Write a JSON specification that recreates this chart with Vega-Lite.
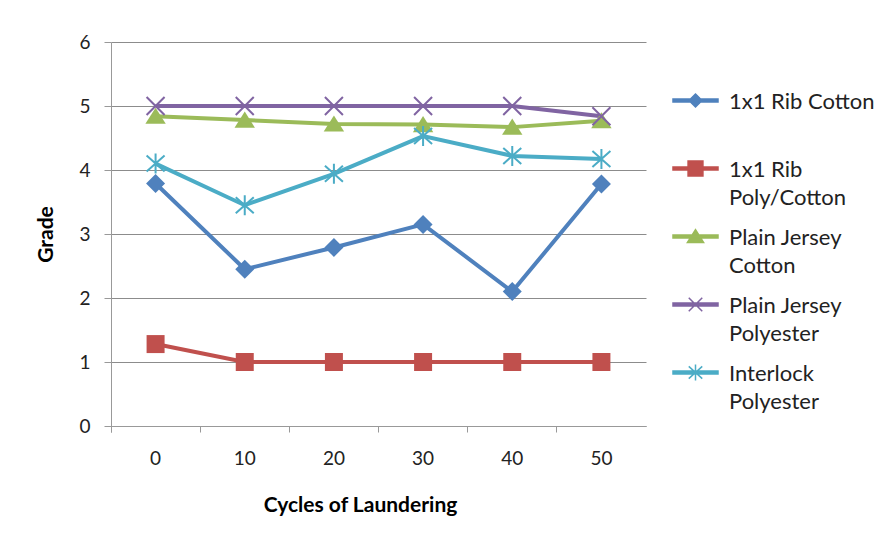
{
  "$schema": "https://vega.github.io/schema/vega-lite/v6.json",
  "autosize": "none",
  "width": 535,
  "height": 384,
  "padding": {"left": 111, "top": 42, "right": 231, "bottom": 107},
  "background": "white",
  "config": {
    "view": {"stroke": null},
    "font": "Lato",
    "axis": {"labelFont": "Lato", "titleFont": "Lato", "labelColor": "#222", "titleColor": "#000", "domainColor": "#999", "tickColor": "#999", "gridColor": "#8c8c8c", "labelFontSize": 19, "titleFontSize": 21, "titleFontWeight": "bold"},
    "legend": {"labelFont": "Lato", "labelFontSize": 22, "labelColor": "#222"}
  },
  "data": {"values": [
    {"cycle": 0, "series": "1x1 Rib Cotton", "grade": 3.79},
    {"cycle": 10, "series": "1x1 Rib Cotton", "grade": 2.45},
    {"cycle": 20, "series": "1x1 Rib Cotton", "grade": 2.79},
    {"cycle": 30, "series": "1x1 Rib Cotton", "grade": 3.15},
    {"cycle": 40, "series": "1x1 Rib Cotton", "grade": 2.1},
    {"cycle": 50, "series": "1x1 Rib Cotton", "grade": 3.78},
    {"cycle": 0, "series": "1x1 Rib Poly/Cotton", "grade": 1.28},
    {"cycle": 10, "series": "1x1 Rib Poly/Cotton", "grade": 1},
    {"cycle": 20, "series": "1x1 Rib Poly/Cotton", "grade": 1},
    {"cycle": 30, "series": "1x1 Rib Poly/Cotton", "grade": 1},
    {"cycle": 40, "series": "1x1 Rib Poly/Cotton", "grade": 1},
    {"cycle": 50, "series": "1x1 Rib Poly/Cotton", "grade": 1},
    {"cycle": 0, "series": "Plain Jersey Cotton", "grade": 4.84},
    {"cycle": 10, "series": "Plain Jersey Cotton", "grade": 4.78},
    {"cycle": 20, "series": "Plain Jersey Cotton", "grade": 4.72},
    {"cycle": 30, "series": "Plain Jersey Cotton", "grade": 4.71},
    {"cycle": 40, "series": "Plain Jersey Cotton", "grade": 4.67},
    {"cycle": 50, "series": "Plain Jersey Cotton", "grade": 4.77},
    {"cycle": 0, "series": "Plain Jersey Polyester", "grade": 5},
    {"cycle": 10, "series": "Plain Jersey Polyester", "grade": 5},
    {"cycle": 20, "series": "Plain Jersey Polyester", "grade": 5},
    {"cycle": 30, "series": "Plain Jersey Polyester", "grade": 5},
    {"cycle": 40, "series": "Plain Jersey Polyester", "grade": 5},
    {"cycle": 50, "series": "Plain Jersey Polyester", "grade": 4.84},
    {"cycle": 0, "series": "Interlock Polyester", "grade": 4.1},
    {"cycle": 10, "series": "Interlock Polyester", "grade": 3.45},
    {"cycle": 20, "series": "Interlock Polyester", "grade": 3.94},
    {"cycle": 30, "series": "Interlock Polyester", "grade": 4.53},
    {"cycle": 40, "series": "Interlock Polyester", "grade": 4.22},
    {"cycle": 50, "series": "Interlock Polyester", "grade": 4.17}
  ]},
  "encoding": {
    "x": {"field": "cycle", "type": "ordinal", "scale": {"type": "band", "paddingInner": 0, "paddingOuter": 0},
      "axis": {"title": "Cycles of Laundering", "labelAngle": 0, "bandPosition": 0, "tickExtra": true, "tickSize": 6, "labelPadding": 17, "titlePadding": 26, "titleX": 249, "titleAlign": "center", "grid": false}},
    "y": {"field": "grade", "type": "quantitative", "scale": {"domain": [0, 6], "nice": false},
      "axis": {"title": "Grade", "values": [0, 1, 2, 3, 4, 5, 6], "tickSize": 7, "labelPadding": 14, "titlePadding": 22, "grid": true}},
    "color": {"field": "series", "type": "nominal",
      "scale": {"domain": ["1x1 Rib Cotton", "1x1 Rib Poly/Cotton", "Plain Jersey Cotton", "Plain Jersey Polyester", "Interlock Polyester"],
                "range": ["#4F81BD", "#C0504D", "#9BBB59", "#8064A2", "#4BACC6"]}}
  },
  "layer": [
    {
      "mark": {"type": "line", "strokeWidth": 4},
      "encoding": {
        "color": {"field": "series", "type": "nominal",
          "legend": {
            "orient": "none", "legendX": 561, "legendY": 35, "title": null,
            "symbolSize": 2025, "labelOffset": 10, "rowPadding": 4, "labelBaseline": "top",
            "labelExpr": "datum.label == '1x1 Rib Cotton' ? ['1x1 Rib Cotton', ''] : datum.label == '1x1 Rib Poly/Cotton' ? ['1x1 Rib', 'Poly/Cotton'] : datum.label == 'Plain Jersey Cotton' ? ['Plain Jersey', 'Cotton'] : datum.label == 'Plain Jersey Polyester' ? ['Plain Jersey', 'Polyester'] : ['Interlock', 'Polyester']",
            "encode": {
              "labels": {"update": {"lineHeight": {"value": 28}, "dy": {"value": -9}}},
              "symbols": {"update": {
                "shape": {"signal": "datum.value == '1x1 Rib Cotton' ? 'M-1,-0.07H1V0.07H-1ZM0,-0.29L0.29,0L0,0.29L-0.29,0Z' : datum.value == '1x1 Rib Poly/Cotton' ? 'M-1,-0.07H1V0.07H-1ZM-0.33,-0.33H0.33V0.33H-0.33Z' : datum.value == 'Plain Jersey Cotton' ? 'M-1,-0.07H1V0.07H-1ZM0,-0.3L0.36,0.27L-0.36,0.27Z' : datum.value == 'Plain Jersey Polyester' ? 'M-1,-0.07H1V0.07H-1ZM-0.3,-0.3L0.3,0.3M-0.3,0.3L0.3,-0.3' : 'M-1,-0.07H1V0.07H-1ZM-0.3,-0.27L0.3,0.27M-0.3,0.27L0.3,-0.27M0,-0.36V0.36'"},
                "fill": {"scale": "color", "field": "value"},
                "stroke": {"scale": "color", "field": "value"},
                "strokeWidth": {"value": 1.5},
                "fillOpacity": {"value": 1},
                "strokeOpacity": {"value": 1},
                "opacity": {"value": 1},
                "size": {"value": 2025}
              }}
            }
          }
        }
      }
    },
    {
      "transform": [{"filter": "datum.series == '1x1 Rib Cotton'"}],
      "mark": {"type": "point", "filled": true, "opacity": 1, "size": 400, "shape": "M0,-0.95L0.95,0L0,0.95L-0.95,0Z"},
      "encoding": {"color": {"field": "series", "type": "nominal", "legend": null}}
    },
    {
      "transform": [{"filter": "datum.series == '1x1 Rib Poly/Cotton'"}],
      "mark": {"type": "point", "filled": true, "opacity": 1, "size": 400, "shape": "M-0.9,-0.9H0.9V0.9H-0.9Z"},
      "encoding": {"color": {"field": "series", "type": "nominal", "legend": null}}
    },
    {
      "transform": [{"filter": "datum.series == 'Plain Jersey Cotton'"}],
      "mark": {"type": "point", "filled": true, "opacity": 1, "size": 400, "shape": "M0,-0.85L1.02,0.76L-1.02,0.76Z"},
      "encoding": {"color": {"field": "series", "type": "nominal", "legend": null}}
    },
    {
      "transform": [{"filter": "datum.series == 'Plain Jersey Polyester'"}],
      "mark": {"type": "point", "filled": false, "opacity": 1, "size": 400, "strokeWidth": 2, "shape": "M-0.9,-0.9L0.9,0.9M-0.9,0.9L0.9,-0.9"},
      "encoding": {"color": {"field": "series", "type": "nominal", "legend": null}}
    },
    {
      "transform": [{"filter": "datum.series == 'Interlock Polyester'"}],
      "mark": {"type": "point", "filled": false, "opacity": 1, "size": 400, "strokeWidth": 2, "shape": "M-0.9,-0.8L0.9,0.8M-0.9,0.8L0.9,-0.8M0,-1V1"},
      "encoding": {"color": {"field": "series", "type": "nominal", "legend": null}}
    }
  ]
}
